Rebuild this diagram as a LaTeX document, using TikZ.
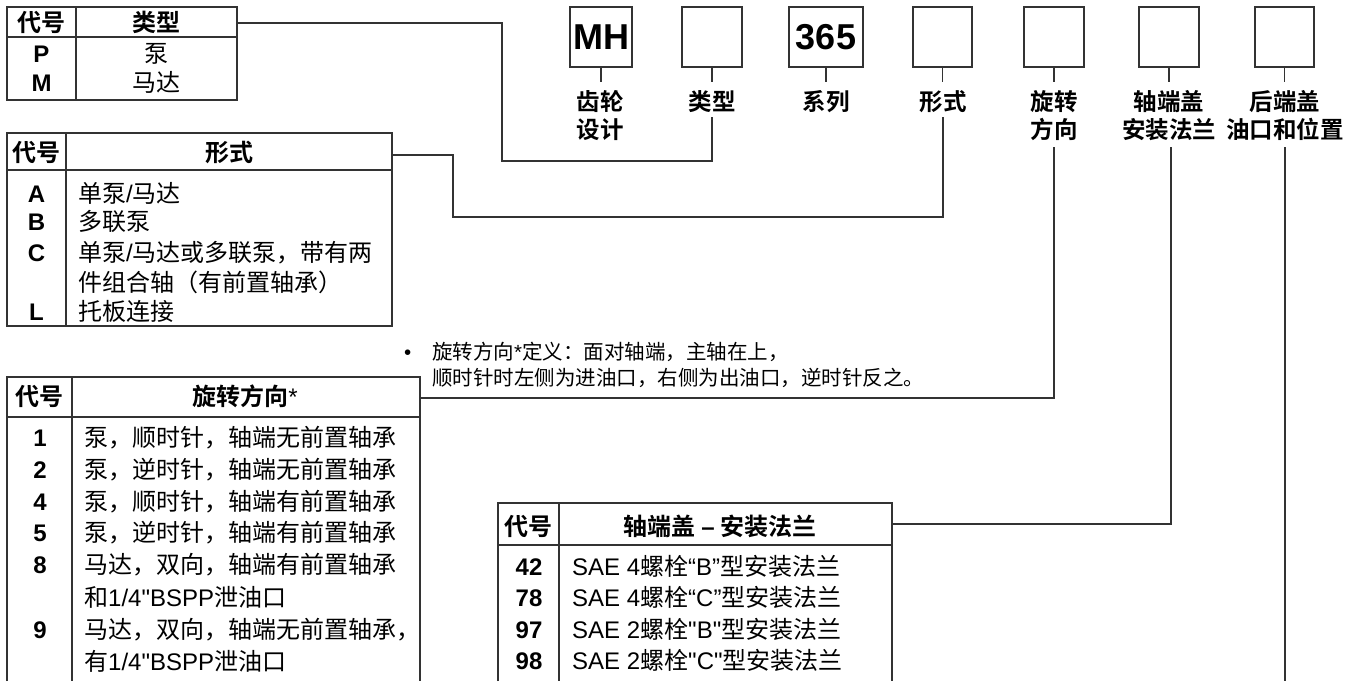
\documentclass[tikz,border=0pt]{standalone}
\usepackage{fontspec}
\setmainfont{Noto Sans CJK SC}[BoldFont={Noto Sans CJK SC Bold}]
\newfontfamily\lat{Liberation Sans}
\begin{document}
\begin{tikzpicture}[x=1pt,y=-1pt,
  frame/.style={draw=black!80,line width=1.3pt},
  conn/.style={draw=black!80,line width=1.3pt},
  hd/.style={font=\fontsize{24}{28}\selectfont\bfseries,anchor=base,inner sep=0pt},
  code/.style={font=\fontsize{24}{28}\selectfont\lat\bfseries,anchor=base,inner sep=0pt},
  txt/.style={font=\fontsize{24}{28}\selectfont,anchor=base west,inner sep=0pt},
  txtc/.style={font=\fontsize{24}{28}\selectfont,anchor=base,inner sep=0pt},
  lbl/.style={font=\fontsize{23.5}{28}\selectfont\bfseries,anchor=base,inner sep=0pt},
  note/.style={font=\fontsize{20.5}{24}\selectfont,anchor=base west,inner sep=0pt},
  codebox/.style={draw=black!80,line width=1.3pt,minimum height=60pt,inner sep=0pt,
     font=\fontsize{36}{40}\selectfont\lat\bfseries}
]
\useasboundingbox (0,0) rectangle (1359,681);

% ---------- top code boxes ----------
\node[codebox,minimum width=62pt] (b1) at (601,37) {MH};
\node[codebox,minimum width=60pt] (b2) at (712,37) {};
\node[codebox,minimum width=74pt] (b3) at (826,37) {365};
\node[codebox,minimum width=59pt] (b4) at (942.5,37) {};
\node[codebox,minimum width=60pt] (b5) at (1054,37) {};
\node[codebox,minimum width=60pt] (b6) at (1169,37) {};
\node[codebox,minimum width=59pt] (b7) at (1284.5,37) {};

% labels
\node[lbl] (l1a) at (600,110) {齿轮};
\node[lbl] (l1b) at (600,138.5) {设计};
\node[lbl] (l2) at (712,110) {类型};
\node[lbl] (l3) at (826,110) {系列};
\node[lbl] (l4) at (943,110) {形式};
\node[lbl] (l5a) at (1054,110) {旋转};
\node[lbl] (l5b) at (1054,138.5) {方向};
\node[lbl] (l6a) at (1169,110) {轴端盖};
\node[lbl] (l6b) at (1169,138.5) {安装法兰};
\node[lbl] (l7a) at (1285,110) {后端盖};
\node[lbl] (l7b) at (1285,138.5) {油口和位置};

% stems
\foreach \b/\x in {b1/601,b2/712,b3/826,b4/942.5,b5/1054,b6/1169,b7/1284.5}{
  \coordinate (\b s) at (\x,82);
  \draw[conn] (\b.south) -- (\b s);
}

% ---------- table 1 : type ----------
\draw[frame] (7,7) rectangle (237,100);
\draw[frame] (7,37) -- (237,37);
\draw[frame] (76,7) -- (76,100);
\node[hd] (t1h1) at (41.5,31) {代号};
\node[hd] (t1h2) at (156.5,31) {类型};
\node[code] (t1c1) at (41.5,62) {P};
\node[code] (t1c2) at (41.5,91) {M};
\node[txtc] (t1v1) at (156.5,62) {泵};
\node[txtc] (t1v2) at (156.5,91) {马达};

% ---------- table 2 : form ----------
\draw[frame] (7,133) rectangle (392,326);
\draw[frame] (7,170) -- (392,170);
\draw[frame] (66,133) -- (66,326);
\node[hd] (t2h1) at (36.5,161.5) {代号};
\node[hd] (t2h2) at (229,161.5) {形式};
\node[code] (t2c1) at (36.5,202.5) {A};
\node[code] (t2c2) at (36.5,230.5) {B};
\node[code] (t2c3) at (36.5,261.5) {C};
\node[code] (t2c4) at (36.5,320.5) {L};
\node[txt] (t2v1) at (78,202.5) {单泵{\lat /}马达};
\node[txt] (t2v2) at (78,230.5) {多联泵};
\node[txt] (t2v3) at (78,261.5) {单泵{\lat /}马达或多联泵，带有两};
\node[txt] (t2v3b) at (78,291.5) {件组合轴（有前置轴承）};
\node[txt] (t2v4) at (78,320.5) {托板连接};

% ---------- note ----------
\node[note] (nb) at (404,359.5) {{\lat •}};
\node[note] (n1) at (432,359.5) {旋转方向{\lat *}定义：面对轴端，主轴在上，};
\node[note] (n2) at (432,385.5) {顺时针时左侧为进油口，右侧为出油口，逆时针反之。};

% ---------- table 3 : rotation ----------
\draw[frame] (7,681) -- (7,377) -- (420,377) -- (420,681);
\draw[frame] (7,417) -- (420,417);
\draw[frame] (72,377) -- (72,681);
\node[hd] (t3h1) at (39.5,405.5) {代号};
\node[hd] (t3h2) at (245,405.5) {旋转方向{\lat\mdseries *}};
\foreach \c/\y [count=\i] in {1/446.5,2/478.5,4/510.5,5/541.5,8/573.5,9/638.5}{
  \node[code] (t3c\i) at (40,\y) {\c};
}
\node[txt] (t3v1) at (84,446.5) {泵，顺时针，轴端无前置轴承};
\node[txt] (t3v2) at (84,478.5) {泵，逆时针，轴端无前置轴承};
\node[txt] (t3v3) at (84,510.5) {泵，顺时针，轴端有前置轴承};
\node[txt] (t3v4) at (84,541.5) {泵，逆时针，轴端有前置轴承};
\node[txt] (t3v5) at (84,573.5) {马达，双向，轴端有前置轴承};
\node[txt] (t3v5b) at (84,606.5) {和{\lat 1/4"BSPP}泄油口};
\node[txt] (t3v6) at (84,638.5) {马达，双向，轴端无前置轴承，};
\node[txt] (t3v6b) at (84,670.5) {有{\lat 1/4"BSPP}泄油口};

% ---------- table 4 : flange ----------
\draw[frame] (498,681) -- (498,503) -- (892,503) -- (892,681);
\draw[frame] (498,545) -- (892,545);
\draw[frame] (559,503) -- (559,681);
\node[hd] (t4h1) at (528.5,535.5) {代号};
\node[hd] (t4h2) at (720,535.5) {轴端盖 {\lat –} 安装法兰};
\node[code] (t4c1) at (529,575.5) {42};
\node[code] (t4c2) at (529,606.5) {78};
\node[code] (t4c3) at (529,638.5) {97};
\node[code] (t4c4) at (529,669.5) {98};
\node[txt] (t4v1) at (572,575.5) {{\lat SAE 4}螺栓{\lat “B”}型安装法兰};
\node[txt] (t4v2) at (572,606.5) {{\lat SAE 4}螺栓{\lat “C”}型安装法兰};
\node[txt] (t4v3) at (572,638.5) {{\lat SAE 2}螺栓{\lat "B"}型安装法兰};
\node[txt] (t4v4) at (572,669.5) {{\lat SAE 2}螺栓{\lat "C"}型安装法兰};

% ---------- connectors ----------
\coordinate (p1) at (237,23);
\coordinate (k1a) at (502,23);
\coordinate (k1b) at (502,161);
\coordinate (k1c) at (712,161);
\coordinate (e1) at (712,117);
\draw[conn] (p1) -- (k1a) -- (k1b) -- (k1c) -- (e1);

\coordinate (p2) at (392,155);
\coordinate (k2a) at (453,155);
\coordinate (k2b) at (453,217);
\coordinate (k2c) at (943,217);
\coordinate (e2) at (943,117);
\draw[conn] (p2) -- (k2a) -- (k2b) -- (k2c) -- (e2);

\coordinate (p3) at (420,398);
\coordinate (k3) at (1054,398);
\coordinate (e3) at (1054,147);
\draw[conn] (p3) -- (k3) -- (e3);

\coordinate (p4) at (892,524);
\coordinate (k4) at (1171,524);
\coordinate (e4) at (1171,147);
\draw[conn] (p4) -- (k4) -- (e4);

\coordinate (e5) at (1285,147);
\coordinate (p5) at (1285,681);
\draw[conn] (e5) -- (p5);
\end{tikzpicture}
\end{document}
